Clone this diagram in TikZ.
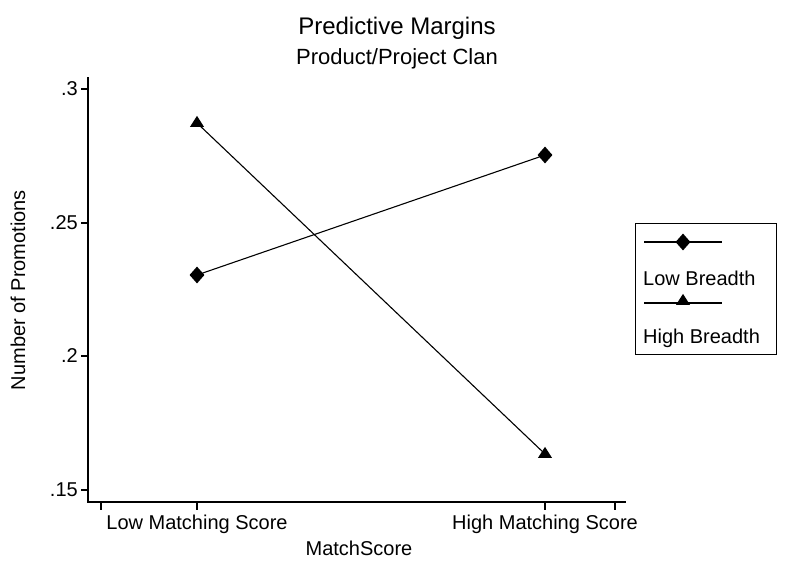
\documentclass[tikz,border=0pt]{standalone}
\usepackage{fontspec}
\setmainfont{Liberation Sans}
\usetikzlibrary{shapes.geometric}
\begin{document}
\begin{tikzpicture}[x=1pt,y=-1pt,
  lbl/.style={font=\fontsize{20}{22}\selectfont, inner sep=0pt},
  dia/.style={diamond, fill=black, minimum width=15pt, minimum height=17pt, inner sep=0pt},
  tri/.style={isosceles triangle, isosceles triangle apex angle=65, shape border rotate=90, fill=black, minimum height=11pt, inner sep=0pt},
  ln/.style={line width=1.1pt}]
\useasboundingbox (0,0) rectangle (787,570);
\fill[white] (0,0) rectangle (787,570);
\node[font=\fontsize{24}{26}\selectfont] (t) at (397,28) {Predictive Margins};
\node[font=\fontsize{22}{24}\selectfont] (st) at (397,59) {Product/Project Clan};
% axes
\draw[ln] (88,77) -- (88,502) -- (626,502);
\foreach \y/\t in {89/.3,223/.25,356/.2,490/.15}{
  \draw[ln] (88,\y) -- (81,\y);
  \node[lbl, anchor=east] at (78,\y) {\t};}
\foreach \x in {101,197,545,615} \draw[ln] (\x,502) -- (\x,510);
\node[lbl] (xl1) at (197,524) {Low Matching Score};
\node[lbl] (xl2) at (545,524) {High Matching Score};
\node[lbl] (xt) at (359,548) {MatchScore};
\node[lbl, rotate=90] (yt) at (18,290) {Number of Promotions};
% data
\node[dia] (a1) at (197,275) {};
\node[dia] (a2) at (545,155) {};
\node[tri] (b1) at (197,123) {};
\node[tri] (b2) at (545,454) {};
\draw[ln] (a1.center) -- (a2.center);
\draw[ln] (b1.center) -- (b2.center);
% legend
\draw[line width=0.8pt] (635,223) rectangle (776,354);
\coordinate (l1a) at (644,242); \coordinate (l1b) at (722,242);
\coordinate (l2a) at (644,303); \coordinate (l2b) at (722,303);
\draw[ln] (l1a) -- (l1b); \draw[ln] (l2a) -- (l2b);
\node[dia] (ld) at (683,242) {};
\node[tri] (lt) at (683,301) {};
\node[lbl, anchor=west] (lg1) at (643,278) {Low Breadth};
\node[lbl, anchor=west] (lg2) at (643,338) {High Breadth};
\end{tikzpicture}
\end{document}
